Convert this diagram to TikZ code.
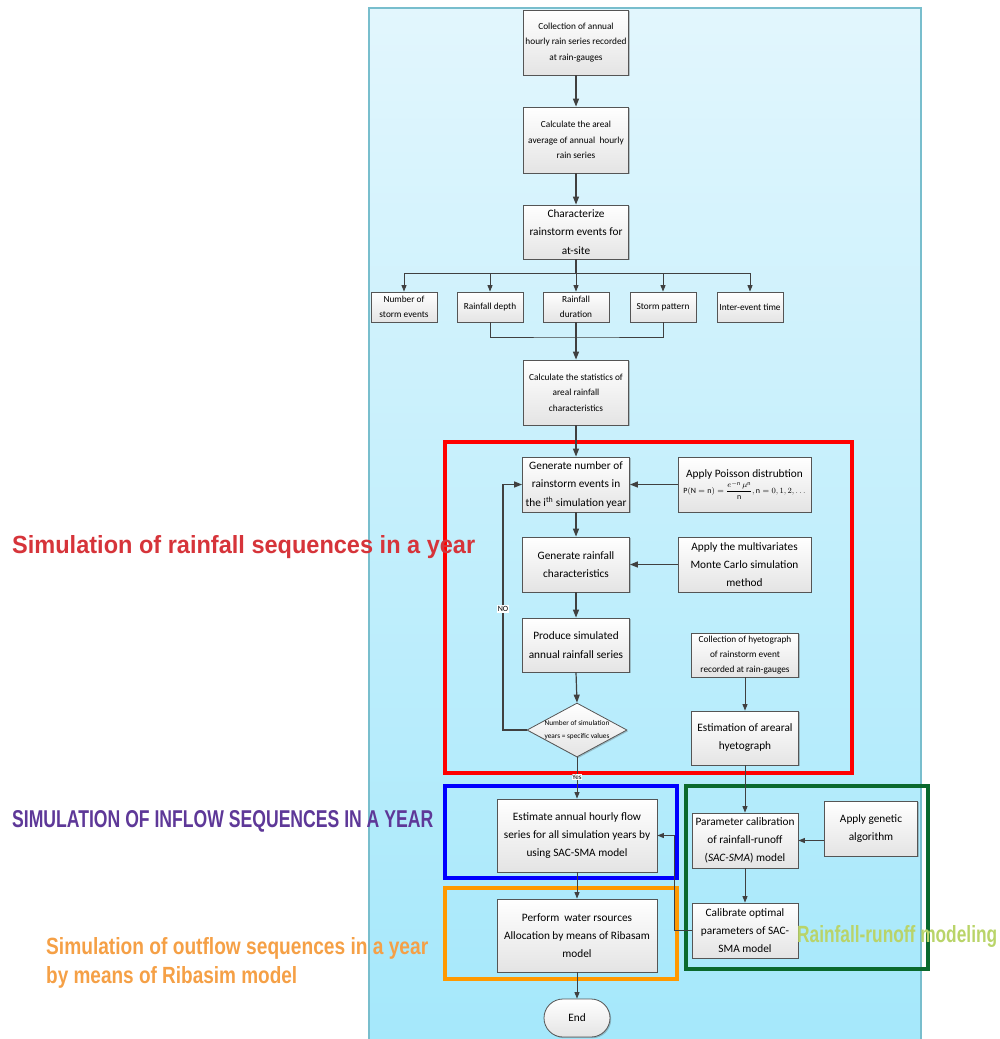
\documentclass[tikz,border=0pt]{standalone}
\usepackage{fontspec}
\usepackage{amsmath}
\setmainfont{Carlito}
\newfontfamily\lblfont{Liberation Sans}
\usetikzlibrary{arrows.meta,shapes.geometric,shadows}
\definecolor{paneltop}{RGB}{226,246,253}
\definecolor{panelbot}{RGB}{165,232,251}
\definecolor{panelline}{RGB}{120,190,205}
\definecolor{boxline}{RGB}{85,85,85}
\definecolor{boxbot}{RGB}{228,228,228}
\definecolor{arrowc}{RGB}{64,64,64}
\definecolor{redlbl}{RGB}{214,52,58}
\definecolor{purplbl}{RGB}{94,56,152}
\definecolor{orangelbl}{RGB}{245,160,70}
\definecolor{greenlbl}{RGB}{185,212,105}
\definecolor{frred}{RGB}{255,0,0}
\definecolor{frblue}{RGB}{0,0,255}
\definecolor{frorange}{RGB}{255,153,0}
\definecolor{frgreen}{RGB}{10,105,45}
\begin{document}
\begin{tikzpicture}[x=1pt,y=-1pt,
  box/.style={draw=boxline, line width=0.8pt, top color=white, bottom color=boxbot,
    align=center, inner sep=1pt,
    drop shadow={shadow xshift=1.2pt, shadow yshift=-1.2pt, opacity=0.3, fill=black!70}},
  fsmall/.style={font=\fontsize{9.3}{15.5}\selectfont},
  fmid/.style={font=\fontsize{11.3}{18}\selectfont},
  fbig/.style={font=\fontsize{11.3}{18.5}\selectfont},
  ar/.style={-{Triangle[length=8pt,width=6pt]}, line width=1.2pt, draw=arrowc},
  arthin/.style={-{Triangle[length=6.5pt,width=5pt]}, line width=0.9pt, draw=arrowc},
  ln/.style={line width=1.2pt, draw=arrowc},
  lnthin/.style={line width=0.9pt, draw=arrowc},
  frame/.style={line width=4pt}
]
\useasboundingbox (0,0) rectangle (1000,1039);
% background panel
\shade[top color=paneltop, bottom color=panelbot] (369,8) rectangle (921,1039);
\draw[panelline, line width=1.2pt] (369,1039) -- (369,8) -- (921,8) -- (921,1039);

% frames
\draw[frame, frred] (445,442) rectangle (852,773);
\draw[frame, frblue] (445,786) rectangle (677,878);
\draw[frame, frorange] (445,888) rectangle (677,979);
\draw[frame, frgreen] (686,786) rectangle (928,969);

% main column
\node[box, fsmall, minimum width=105pt, minimum height=65pt] (b1) at (576,42.5) {Collection of annual\\hourly rain series recorded\\at rain-gauges};
\node[box, fsmall, minimum width=105pt, minimum height=66pt] (b2) at (576,140) {Calculate the areal\\average of annual~ hourly\\rain series};
\node[box, fbig, minimum width=105pt, minimum height=54pt] (b3) at (576,232) {Characterize\\rainstorm events for\\at-site};

\node[box, fsmall, minimum width=66pt, minimum height=30pt] (s1) at (404,307) {Number of\\storm events};
\node[box, fsmall, minimum width=66pt, minimum height=30pt] (s2) at (490,307) {Rainfall depth};
\node[box, fsmall, minimum width=66pt, minimum height=30pt] (s3) at (576,307) {Rainfall\\duration};
\node[box, fsmall, minimum width=66pt, minimum height=30pt] (s4) at (663,307) {Storm pattern};
\node[box, fsmall, minimum width=66pt, minimum height=30pt] (s5) at (750,307) {Inter-event time};

\node[box, fsmall, minimum width=105pt, minimum height=65pt] (b6) at (576,392.5) {Calculate the statistics of\\areal rainfall\\characteristics};

\node[box, fbig, minimum width=107pt, minimum height=55pt] (b7) at (576,484.5) {Generate number of\\rainstorm events in\\the i\textsuperscript{th} simulation year};
\node[box, font=\fontsize{11.3}{13}\selectfont, minimum width=133pt, minimum height=55pt, inner sep=0pt] (poi) at (744.5,484.5) {Apply Poisson distrubtion\\[1pt]{\fontsize{8}{9}\selectfont$\mathrm{P(N=n)}=\dfrac{e^{-\mathrm{n}}\,\mu^{\mathrm{n}}}{\mathrm{n}},\mathrm{n}=0,1,2,\ldots$}};
\node[box, fbig, minimum width=107pt, minimum height=55pt] (b8) at (576,564.5) {Generate rainfall\\characteristics};
\node[box, fmid, minimum width=133pt, minimum height=55pt] (mc) at (744.5,564.5) {Apply the multivariates\\Monte Carlo simulation\\method};
\node[box, fbig, minimum width=107pt, minimum height=54pt] (b9) at (576,645) {Produce simulated\\annual rainfall series};
\node[box, font=\fontsize{9.3}{15}\selectfont, minimum width=107pt, minimum height=44pt] (hc) at (745,655) {Collection of hyetograph\\of rainstorm event\\recorded at rain-gauges};
\node[box, fmid, minimum width=107pt, minimum height=54pt] (he) at (745,738) {Estimation of arearal\\hyetograph};
\node[box, diamond, aspect=1.85, minimum width=100pt, minimum height=54pt, inner sep=0pt,
  label={[font=\fontsize{7.3}{13}\selectfont, align=center]center:Number of simulation\\years = specific values}] (dia) at (577,730) {};

\node[box, fmid, minimum width=160pt, minimum height=73pt] (est) at (577,835.5) {Estimate annual hourly flow\\series for all simulation years by\\using SAC-SMA model};
\node[box, fmid, minimum width=160pt, minimum height=73pt] (per) at (577,935.5) {Perform~ water rsources\\Allocation by means of Ribasam\\model};
\node[box, fbig, minimum width=66pt, minimum height=38pt, rounded corners=19pt] (end) at (577,1018) {End};

\node[box, fmid, minimum width=106pt, minimum height=55pt] (par) at (745,840.5) {Parameter calibration\\of rainfall-runoff\\(\textit{SAC-SMA}) model};
\node[box, fmid, minimum width=93pt, minimum height=55pt] (gen) at (871,828.5) {Apply genetic\\algorithm};
\node[box, fmid, minimum width=106pt, minimum height=55pt] (cal) at (745,930.5) {Calibrate optimal\\parameters of SAC-\\SMA model};

% connectors
\draw[ar] (b1) -- (b2);
\draw[ar] (b2) -- (b3);
\coordinate (br) at (576,273);
\coordinate (brl) at (404,273);
\coordinate (brr) at (750,273);
\draw[ln] (b3.south) -- (br);
\draw[lnthin] (brl) -- (brr);
\draw[arthin] (brl) -- (s1.north);
\draw[arthin] (br -| s2.north) -- (s2.north);
\draw[arthin] (br) -- (s3.north);
\draw[arthin] (br -| s4.north) -- (s4.north);
\draw[arthin] (brr) -- (s5.north);
\coordinate (mg) at (576,337);
\draw[lnthin] (s2.south) |- (mg) -| (s4.south);
\draw[ar] (s3.south) -- (b6.north);
\draw[ar] (b6) -- (b7);
\draw[ar] (b7) -- (b8);
\draw[ar] (b8) -- (b9);
\draw[ar] (b9.south) -- (dia.north);
\draw[ar] (poi.west) -- (b7.east);
\draw[ar] (mc.west) -- (b8.east);
\draw[arthin] (hc) -- (he);
\coordinate (lp) at (503,730);
\draw[ar] (dia.west) -- (lp) |- (b7.west);
\node[fill=white, inner sep=1pt, font=\fontsize{8}{9}\selectfont] (no) at (503,609) {NO};
\draw[arthin] (dia.south) -- (est.north);
\node[fill=white, inner sep=0.8pt, font=\fontsize{7}{8}\selectfont] (yes) at (577,777) {Yes};
\draw[arthin] (he.south) -- (par.north);
\draw[arthin] (gen.west |- par.east) -- (par.east);
\draw[arthin] (par) -- (cal);
\coordinate (rt) at (674,930.5);
\draw[arthin] (cal.west) -- (rt) |- (est.east);
\draw[arthin] (est) -- (per);
\draw[arthin] (per) -- (end);

% side labels
\node[anchor=base west, inner sep=0, text=redlbl] (lr) at (12,553) {\resizebox{463pt}{18pt}{\lblfont\bfseries Simulation of rainfall sequences in a year}};
\node[anchor=base west, inner sep=0, text=purplbl] (lp2) at (12,827) {\resizebox{421pt}{17pt}{\lblfont\bfseries SIMULATION OF INFLOW SEQUENCES IN A YEAR}};
\node[anchor=base west, inner sep=0, text=orangelbl] (lo1) at (46,954) {\resizebox{382pt}{17pt}{\lblfont\bfseries Simulation of outflow sequences in a year}};
\node[anchor=base west, inner sep=0, text=orangelbl] (lo2) at (46,983) {\resizebox{251pt}{17pt}{\lblfont\bfseries by means of Ribasim model}};
\node[anchor=base west, inner sep=0, text=greenlbl] (lg) at (797,942) {\resizebox{200pt}{17pt}{\lblfont\bfseries Rainfall-runoff modeling}};
\end{tikzpicture}
\end{document}
